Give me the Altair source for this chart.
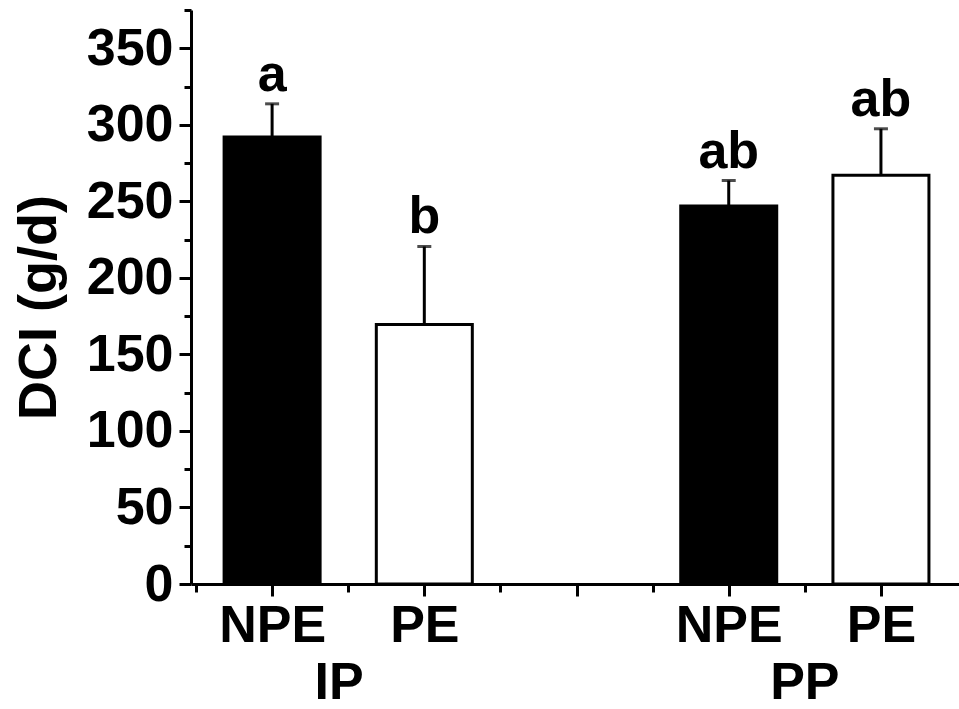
import altair as alt
import pandas as pd

# ---- data ----
positions = [1, 2, 4, 5]
groups = ["IP", "IP", "PP", "PP"]
treatments = ["NPE", "PE", "NPE", "PE"]
means = [292, 169.5, 247, 267]
errors = [21.7, 51, 16.6, 30.4]
letters = ["a", "b", "ab", "ab"]

group_names = ["IP", "PP"]
group_pos = [1.44, 4.5]

x_tick_values = [1, 2, 3, 4, 5]
x_tick_labels = ["NPE", "PE", "", "NPE", "PE"]
x_minor_values = [0.5, 1.5, 2.5, 3.5, 4.5]
y_tick_values = [0, 50, 100, 150, 200, 250, 300, 350]
y_minor_values = [25, 75, 125, 175, 225, 275, 325, 375]

FONT = "Liberation Sans"

df = pd.DataFrame({
    "pos": positions, "group": groups, "treatment": treatments,
    "value": means, "err": errors, "letter": letters,
})
df["top"] = df["value"] + df["err"]
gdf = pd.DataFrame({"name": group_names, "pos": group_pos})

W, H = 768, 574
xscale = alt.Scale(domain=[0.5, 5.48], nice=False, zero=False)
yscale = alt.Scale(domain=[0, 375], nice=False)

label_expr = " : ".join(
    f"datum.value == {v} ? '{l}'" for v, l in zip(x_tick_values, x_tick_labels)
) + " : ''"

x_main_axis = alt.Axis(
    orient="bottom",
    values=x_tick_values, labelExpr=label_expr, title=None, grid=False,
    tickSize=12, tickWidth=3, tickColor="black", domainWidth=3, domainColor="black",
    labelFont=FONT, labelFontSize=52, labelFontWeight="bold", labelColor="black",
    labelPadding=4, labelBaseline="top", labelFlush=False, labelOverlap=False,
)
y_main_axis = alt.Axis(
    orient="left",
    values=y_tick_values, title="DCI (g/d)", grid=False,
    tickSize=12, tickWidth=3, tickColor="black", domainWidth=3, domainColor="black",
    labelFont=FONT, labelFontSize=52, labelFontWeight="bold", labelColor="black",
    labelPadding=6, labelFlush=False, labelOverlap=False,
    titleFont=FONT, titleFontSize=54, titleFontWeight="bold", titleColor="black",
    titleAngle=270, titleAlign="center", titleBaseline="alphabetic",
    titleX=-136, titleY=297,
)
x_minor_axis = alt.Axis(
    orient="bottom",
    values=x_minor_values, labels=False, domain=False, title=None, grid=False,
    tickSize=8, tickWidth=3, tickColor="black",
)
y_minor_axis = alt.Axis(
    orient="left",
    values=y_minor_values, labels=False, domain=False, title=None, grid=False,
    tickSize=7, tickWidth=3, tickColor="black",
)

base = alt.Chart(df)

bars = base.mark_bar(size=96, stroke="black", strokeWidth=3).encode(
    x=alt.X("pos:Q", scale=xscale, axis=x_main_axis),
    y=alt.Y("value:Q", scale=yscale, axis=y_main_axis),
    fill=alt.Fill("treatment:N", scale=alt.Scale(domain=["NPE", "PE"], range=["black", "white"]), legend=None),
)

minor = base.mark_point(opacity=0).encode(
    x=alt.X("pos:Q", scale=xscale, axis=x_minor_axis),
    y=alt.Y("value:Q", scale=yscale, axis=y_minor_axis),
)

rules = base.mark_rule(color="black", strokeWidth=3).encode(
    x=alt.X("pos:Q", scale=xscale, axis=None),
    y=alt.Y("value:Q", scale=yscale, axis=None),
    y2="top:Q",
)

caps = base.mark_tick(orient="horizontal", size=14, thickness=3, color="black").encode(
    x=alt.X("pos:Q", scale=xscale, axis=None),
    y=alt.Y("top:Q", scale=yscale, axis=None),
)

texts = base.mark_text(
    font=FONT, fontSize=52, fontWeight="bold", color="black",
    baseline="alphabetic", align="center", dy=-13,
).encode(
    x=alt.X("pos:Q", scale=xscale, axis=None),
    y=alt.Y("top:Q", scale=yscale, axis=None),
    text="letter:N",
)

glabels = alt.Chart(gdf).mark_text(
    font=FONT, fontSize=52, fontWeight="bold", color="black",
    baseline="alphabetic", align="center",
).encode(
    x=alt.X("pos:Q", scale=xscale, axis=None),
    y=alt.value(689),
    text="name:N",
)

chart = alt.layer(bars, minor, rules, caps, texts, glabels).resolve_axis(
    x="independent", y="independent"
).properties(
    width=W, height=H,
    background="white",
    autosize=alt.AutoSizeParams(type="none"),
    padding={"left": 191, "top": 10, "right": 0, "bottom": 125},
).configure_view(stroke=None)

chart.save("out.html", embed_options={"renderer": "svg", "actions": False})
